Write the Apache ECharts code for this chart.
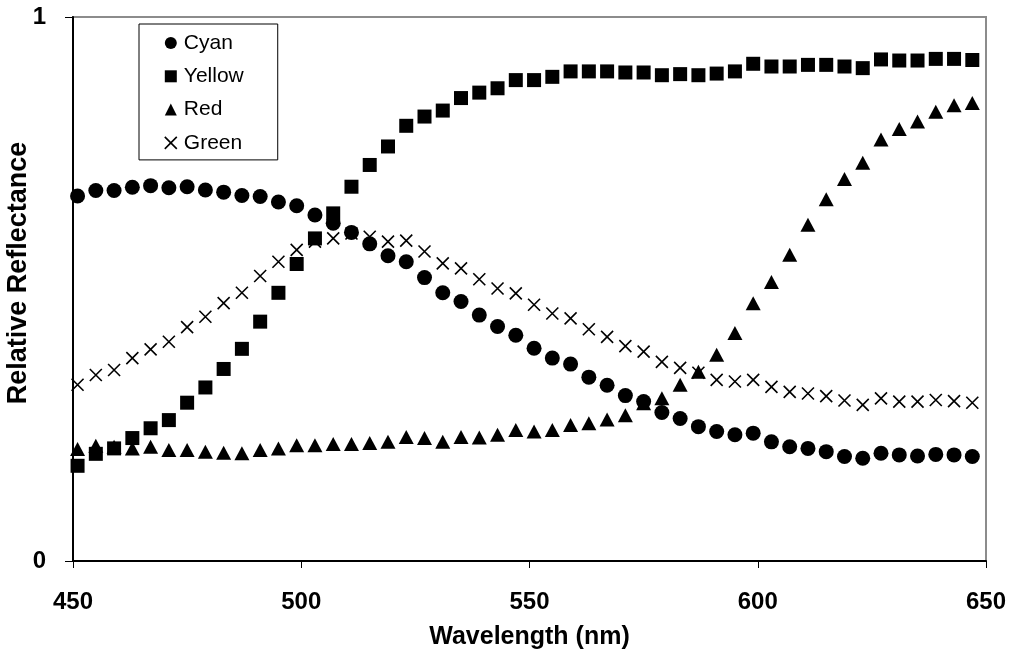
<!DOCTYPE html>
<html>
<head>
<meta charset="utf-8">
<title>Relative Reflectance</title>
<script src="https://cdn.jsdelivr.net/npm/echarts@6/dist/echarts.min.js"></script>
<style>
  html, body { margin: 0; padding: 0; background: #fff; }
  #chart { width: 1012px; height: 654px; }
</style>
</head>
<body>
<div id="chart"></div>
<script>
// Wavelengths (nm) of each measurement
const wavelengths = [451, 455, 459, 463, 467, 471, 475, 479, 483, 487,
                     491, 495, 499, 503, 507, 511, 515, 519, 523, 527,
                     531, 535, 539, 543, 547, 551, 555, 559, 563, 567,
                     571, 575, 579, 583, 587, 591, 595, 599, 603, 607,
                     611, 615, 619, 623, 627, 631, 635, 639, 643, 647];

// Relative reflectance of each ink
const cyan = [0.671, 0.681, 0.681, 0.687, 0.690, 0.686, 0.688, 0.682, 0.678, 0.672,
              0.670, 0.660, 0.653, 0.636, 0.621, 0.604, 0.583, 0.561, 0.550, 0.521,
              0.493, 0.477, 0.452, 0.431, 0.415, 0.391, 0.373, 0.362, 0.338, 0.323,
              0.304, 0.293, 0.273, 0.262, 0.247, 0.238, 0.232, 0.235, 0.219, 0.210,
              0.207, 0.201, 0.192, 0.189, 0.198, 0.195, 0.193, 0.196, 0.195, 0.192];
const yellow = [0.175, 0.197, 0.207, 0.226, 0.244, 0.259, 0.291, 0.319, 0.353, 0.390,
                0.440, 0.493, 0.546, 0.593, 0.639, 0.688, 0.728, 0.762, 0.800, 0.817,
                0.828, 0.851, 0.861, 0.869, 0.884, 0.884, 0.890, 0.900, 0.900, 0.900,
                0.898, 0.898, 0.893, 0.895, 0.893, 0.896, 0.900, 0.914, 0.909, 0.909,
                0.912, 0.912, 0.909, 0.906, 0.922, 0.920, 0.920, 0.923, 0.923, 0.921];
const red = [0.206, 0.212, 0.210, 0.207, 0.210, 0.204, 0.204, 0.201, 0.199, 0.198,
             0.204, 0.207, 0.213, 0.213, 0.215, 0.215, 0.217, 0.219, 0.228, 0.226,
             0.219, 0.228, 0.227, 0.232, 0.241, 0.238, 0.241, 0.250, 0.253, 0.260,
             0.268, 0.290, 0.299, 0.324, 0.348, 0.379, 0.419, 0.474, 0.513, 0.563,
             0.618, 0.665, 0.702, 0.732, 0.775, 0.794, 0.808, 0.826, 0.838, 0.842];
const green = [0.324, 0.342, 0.351, 0.373, 0.389, 0.403, 0.430, 0.449, 0.474, 0.493,
               0.524, 0.550, 0.572, 0.587, 0.593, 0.602, 0.596, 0.587, 0.589, 0.569,
               0.547, 0.538, 0.518, 0.501, 0.492, 0.471, 0.455, 0.446, 0.426, 0.412,
               0.395, 0.385, 0.366, 0.355, 0.346, 0.333, 0.330, 0.333, 0.320, 0.311,
               0.308, 0.303, 0.295, 0.287, 0.299, 0.293, 0.293, 0.296, 0.294, 0.291];

const seriesNames = ['Cyan', 'Yellow', 'Red', 'Green'];
const xTicks = { min: 450, max: 650, step: 50 };
const yTicks = { min: 0, max: 1, step: 1 };
const xTitle = 'Wavelength (nm)';
const yTitle = 'Relative Reflectance';

const FONT = 'Arial, "Liberation Sans", sans-serif';
const CROSS = 'path://M0,0L10,10M10,0L0,10';
const CROSS_STYLE = { color: 'rgba(0,0,0,0)', borderColor: '#000', borderWidth: 1.6, opacity: 1 };

function pairs(values) {
  return values.map((v, i) => [wavelengths[i], v]);
}

const chart = echarts.init(document.getElementById('chart'), null, { renderer: 'canvas' });

const markerStyles = [
  { symbol: 'circle', symbolSize: 15, itemStyle: { color: '#000', opacity: 1 } },
  { symbol: 'rect', symbolSize: 14, itemStyle: { color: '#000', opacity: 1 } },
  { symbol: 'triangle', symbolSize: [15, 14], itemStyle: { color: '#000', opacity: 1 } },
  { symbol: CROSS, symbolSize: 12, itemStyle: CROSS_STYLE }
];
const seriesData = [cyan, yellow, red, green];

chart.setOption({
  backgroundColor: '#fff',
  animation: false,
  grid: {
    left: 73, right: 26, top: 17, bottom: 93,
    containLabel: false,
    outerBoundsMode: 'none',
    show: true, borderColor: '#8c8c8c', borderWidth: 2, backgroundColor: '#fff'
  },
  legend: {
    orient: 'vertical',
    left: 139, top: 24,
    padding: [8, 34, 6, 25],
    itemGap: 11.3,
    itemWidth: 12, itemHeight: 12,
    backgroundColor: '#fff',
    borderColor: '#000', borderWidth: 1,
    textStyle: { fontFamily: FONT, fontSize: 21, color: '#000', lineHeight: 22, padding: [0, 0, 0, 2] },
    data: [
      { name: 'Cyan', icon: 'circle', itemStyle: { color: '#000', opacity: 1 } },
      { name: 'Yellow', icon: 'rect', itemStyle: { color: '#000', opacity: 1 } },
      { name: 'Red', icon: 'triangle', itemStyle: { color: '#000', opacity: 1 } },
      { name: 'Green', icon: CROSS, itemStyle: CROSS_STYLE }
    ]
  },
  // vertical axis title, set beside the plot
  graphic: [{
    type: 'text',
    x: 19, y: 273,
    rotation: Math.PI / 2,
    style: {
      text: yTitle,
      font: 'bold 27px ' + FONT,
      fill: '#000',
      align: 'center',
      verticalAlign: 'middle'
    }
  }],
  xAxis: {
    type: 'value',
    min: xTicks.min, max: xTicks.max, interval: xTicks.step,
    name: xTitle,
    nameLocation: 'middle',
    nameGap: 64,
    nameMoveOverlap: false,
    nameTextStyle: { fontFamily: FONT, fontSize: 25, fontWeight: 'bold', color: '#000' },
    axisLine: { show: true, onZero: false, lineStyle: { color: '#000', width: 2 } },
    axisTick: { show: true, inside: false, length: 7, lineStyle: { color: '#000', width: 1 } },
    axisLabel: { margin: 29, fontFamily: FONT, fontSize: 24, fontWeight: 'bold', color: '#000' },
    splitLine: { show: false }
  },
  yAxis: {
    type: 'value',
    min: yTicks.min, max: yTicks.max, interval: yTicks.step,
    axisLine: { show: true, onZero: false, lineStyle: { color: '#000', width: 2 } },
    axisTick: { show: true, inside: false, length: 8, lineStyle: { color: '#000', width: 1 } },
    axisLabel: { margin: 27, fontFamily: FONT, fontSize: 24, fontWeight: 'bold', color: '#000' },
    splitLine: { show: false }
  },
  series: seriesNames.map((name, k) => Object.assign({
    name: name,
    type: 'scatter',
    data: pairs(seriesData[k]),
    z: 2 + k
  }, markerStyles[k]))
});
</script>
</body>
</html>
